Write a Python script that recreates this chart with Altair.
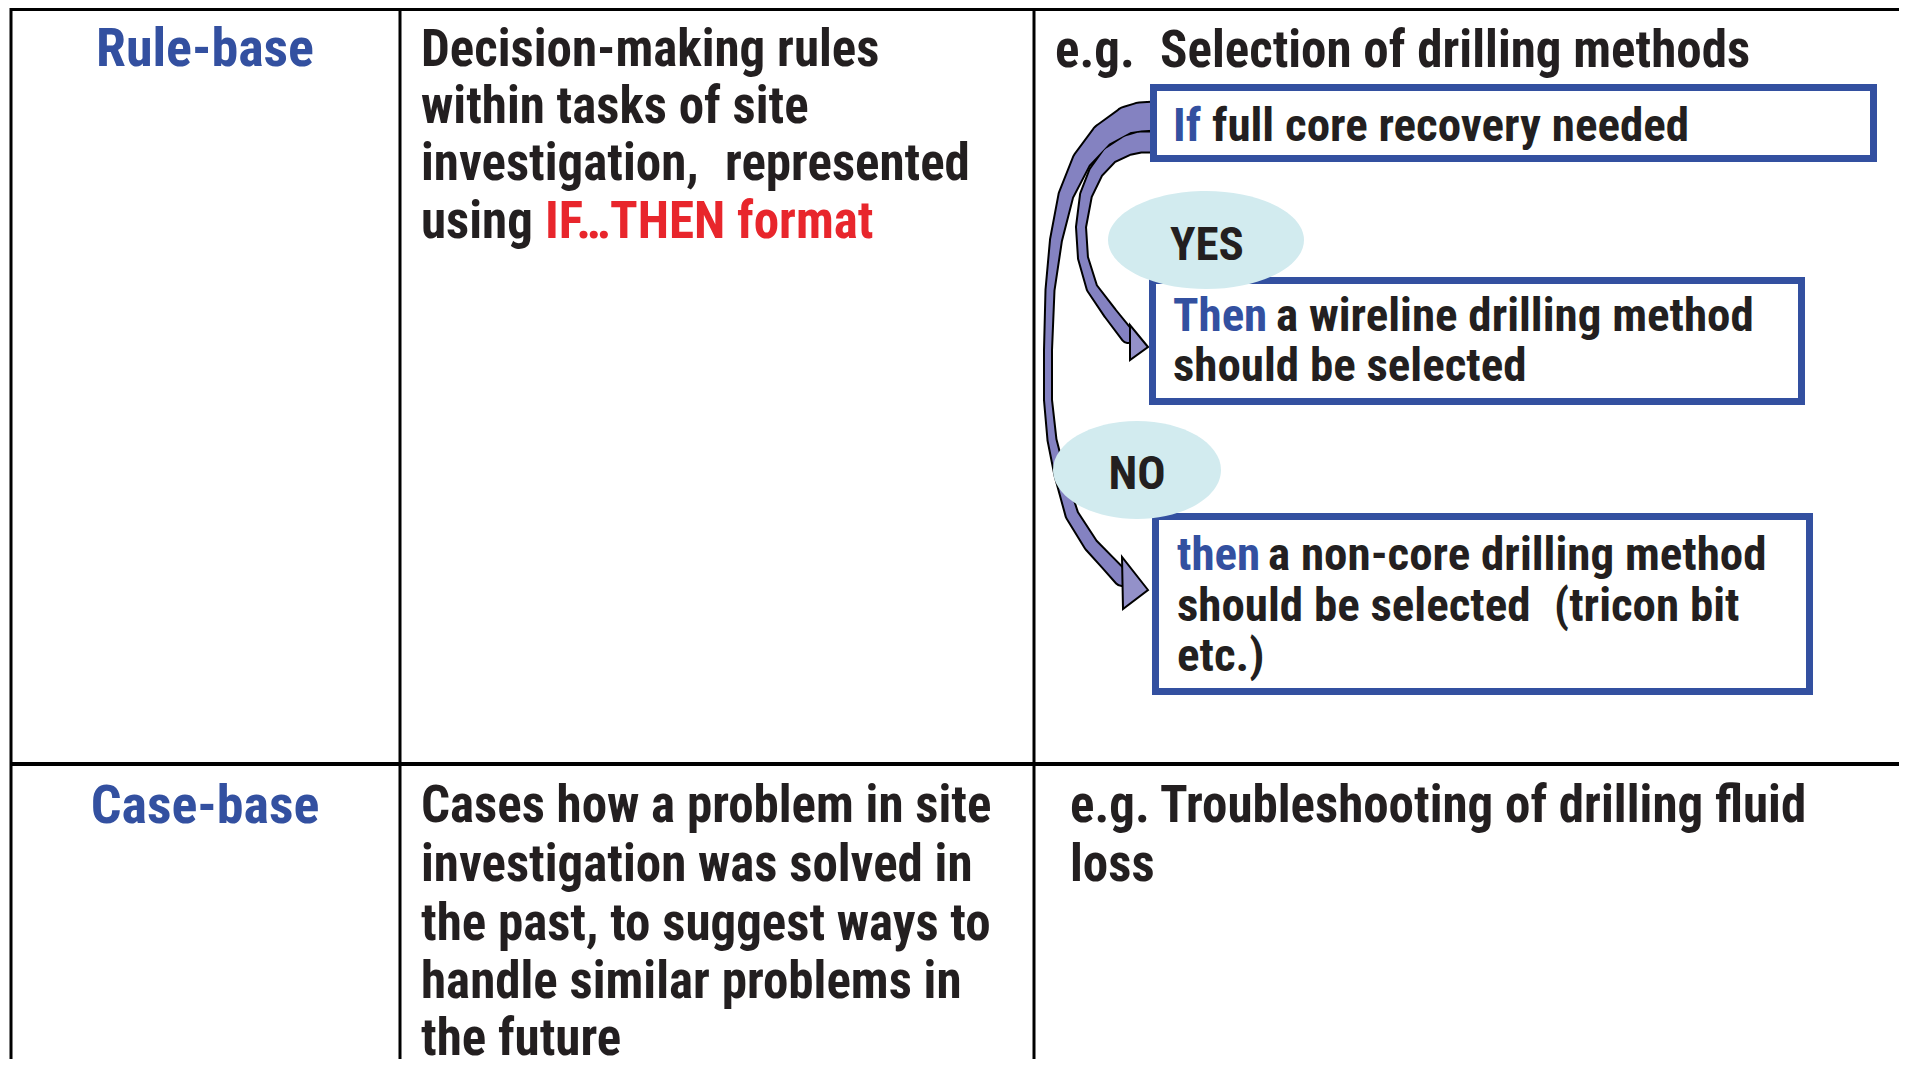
import altair as alt
import pandas as pd

# ---------------- canvas (screen pixels, page has an 8px margin) ----------------
W, H = 1891, 1051
X0, Y0 = 8, 8

BLUE = "#3350A0"
RED = "#E8262C"
BLACK = "#231F20"
ELLIPSE_FILL = "#D2EBEF"
ARROW_FILL = "#8482C1"
HEAD_FILL = "#9391C9"
FONT = "Roboto Condensed, Liberation Sans Narrow, Roboto, sans-serif"
FONT_SIZES = {"label": 54, "body": 51, "box": 47}

# ---------------- table grid lines ----------------
GRID_X1 = [11, 400, 1034, 11, 11]
GRID_X2 = [11, 400, 1034, 1907, 1907]
GRID_Y1 = [6, 6, 6, 764, 9]
GRID_Y2 = [1067, 1067, 1067, 764, 9]
GRID_W = [3, 3, 3, 4, 4]

# ---------------- boxes (If / Then / then) ----------------
BOX_ID = ["if", "yes", "no"]
BOX_X1 = [1153.5, 1152.5, 1155.5]
BOX_X2 = [1873.5, 1801.5, 1809.5]
BOX_Y1 = [87.5, 280.5, 516.5]
BOX_Y2 = [158.5, 401.5, 691.5]

# ---------------- ellipses (YES / NO) ----------------
ELL_ID = ["YES", "NO"]
ELL_X = [1206, 1137]
ELL_Y = [240, 470]
ELL_RX = [98, 84]
ELL_RY = [49, 49]

# ---------------- curved arrows (centre line + ribbon width) ----------------
OUTER_X = [1156, 1140, 1127, 1103, 1082, 1066, 1056, 1050, 1048, 1048, 1052, 1060, 1072, 1091, 1108, 1122]
OUTER_Y = [116, 117, 120, 135, 160, 195, 240, 290, 350, 400, 440, 475, 515, 545, 563, 578]
OUTER_W = [27, 27, 25, 21, 17, 13, 10, 7, 6, 6, 7, 9, 11, 12, 13, 14]
INNER_X = [1156, 1140, 1128, 1110, 1096, 1086, 1081, 1083, 1092, 1110, 1128]
INNER_Y = [142, 142, 145, 155, 172, 195, 227, 258, 288, 313, 336]
INNER_W = [19, 19, 18, 15, 12, 10, 8, 8, 9, 11, 12]

HEAD_ID = ["outer", "inner"]
HEAD_X = [1148, 1148]
HEAD_Y = [590, 347]
HEAD_SHAPE = ["M 0 0 L -26 -33 L -25 19 Z", "M 0 0 L -18 -22 L -18 13 Z"]

# ---------------- texts ----------------
TEXTS = [
    "Rule-base",
    "Decision-making rules", "within tasks of site", "investigation,", "represented",
    "using", "IF…THEN format",
    "e.g.", "Selection of drilling methods",
    "If", "full core recovery needed",
    "YES",
    "Then", "a wireline drilling method", "should be selected",
    "NO",
    "then", "a non-core drilling method", "should be selected", "(tricon bit", "etc.)",
    "Case-base",
    "Cases how a problem in site", "investigation was solved in",
    "the past, to suggest ways to", "handle similar problems in", "the future",
    "e.g. Troubleshooting of drilling fluid", "loss",
]
TEXT_ROLE = [
    "blue",
    "black", "black", "black", "black",
    "black", "red",
    "black", "black",
    "blue", "black",
    "black",
    "blue", "black", "black",
    "black",
    "blue", "black", "black", "black", "black",
    "blue",
    "black", "black", "black", "black", "black",
    "black", "black",
]
TEXT_CLASS = [
    "label",
    "body", "body", "body", "body",
    "body", "body",
    "body", "body",
    "box", "box",
    "box",
    "box", "box", "box",
    "box",
    "box", "box", "box", "box", "box",
    "label",
    "body", "body", "body", "body", "body",
    "body", "body",
]
TEXT_ALIGN = [
    "center",
    "left", "left", "left", "left",
    "left", "left",
    "left", "left",
    "left", "left",
    "center",
    "left", "left", "left",
    "center",
    "left", "left", "left", "left", "left",
    "center",
    "left", "left", "left", "left", "left",
    "left", "left",
]
TEXT_X = [
    205,
    421, 421, 421, 725,
    421, 545,
    1055, 1160,
    1173, 1212,
    1207,
    1173, 1276, 1173,
    1137,
    1177, 1268, 1177, 1554, 1177,
    205,
    421, 421, 421, 421, 421,
    1070, 1070,
]
TEXT_Y = [
    66,
    66, 123, 180, 180,
    238, 238,
    67, 67,
    141, 141,
    260,
    331, 331, 381,
    489,
    570, 570, 621, 621, 671,
    823,
    822, 881, 940, 998, 1055,
    822, 881,
]

# ---------------- data frames ----------------
grid_df = pd.DataFrame({"x": GRID_X1, "x2": GRID_X2, "y": GRID_Y1, "y2": GRID_Y2, "w": GRID_W})
box_df = pd.DataFrame({"id": BOX_ID, "x": BOX_X1, "x2": BOX_X2, "y": BOX_Y1, "y2": BOX_Y2})

arrow_rows = []
for name, xs_, ys_, ws_ in (("outer", OUTER_X, OUTER_Y, OUTER_W), ("inner", INNER_X, INNER_Y, INNER_W)):
    for i, (a, b, c) in enumerate(zip(xs_, ys_, ws_)):
        arrow_rows.append({"arrow": name, "i": i, "x": a, "y": b, "w": c})
arrow_df = pd.DataFrame(arrow_rows)
text_df = pd.DataFrame({
    "t": TEXTS, "role": TEXT_ROLE, "align": TEXT_ALIGN, "x": TEXT_X, "y": TEXT_Y,
    "fs": [FONT_SIZES[c] for c in TEXT_CLASS],
})

# ---------------- shared scales ----------------
xs = alt.Scale(domain=[X0, X0 + W], nice=False, zero=False)
ys = alt.Scale(domain=[Y0, Y0 + H], nice=False, zero=False, reverse=True)
X = lambda f="x": alt.X(f"{f}:Q", scale=xs, axis=None)
Y = lambda f="y": alt.Y(f"{f}:Q", scale=ys, axis=None)

grid = alt.Chart(grid_df).mark_rule(color="black").encode(
    x=X(), x2="x2:Q", y=Y(), y2="y2:Q",
    strokeWidth=alt.StrokeWidth("w:Q", scale=None),
)

trail_outline = alt.Chart(arrow_df).transform_calculate(wo="datum.w + 4").mark_trail(color="black").encode(
    x=X(), y=Y(), detail="arrow:N", order=alt.Order("i:Q"),
    size=alt.Size("wo:Q", scale=None),
)
trail_fill = alt.Chart(arrow_df).mark_trail(color=ARROW_FILL).encode(
    x=X(), y=Y(), detail="arrow:N", order=alt.Order("i:Q"),
    size=alt.Size("w:Q", scale=None),
)

# arrow heads: one layer each, the custom path is the mark's own shape (size 4 -> unit scale)
heads = [
    alt.Chart(pd.DataFrame({"id": [hid], "x": [hx], "y": [hy]})).mark_point(
        shape=hs, filled=True, fill=HEAD_FILL, stroke="black", strokeWidth=2, opacity=1, size=4
    ).encode(x=X(), y=Y())
    for hid, hx, hy, hs in zip(HEAD_ID, HEAD_X, HEAD_Y, HEAD_SHAPE)
]

boxes = alt.Chart(box_df).mark_rect(fill="white", stroke=BLUE, strokeWidth=7).encode(
    x=X(), x2="x2:Q", y=Y(), y2="y2:Q"
)

K = 0.5523


def ellipse_path(rx, ry):
    kx, ky = K * rx, K * ry
    return (
        f"M {-rx} 0 C {-rx} {-ky:.2f} {-kx:.2f} {-ry} 0 {-ry} "
        f"C {kx:.2f} {-ry} {rx} {-ky:.2f} {rx} 0 "
        f"C {rx} {ky:.2f} {kx:.2f} {ry} 0 {ry} "
        f"C {-kx:.2f} {ry} {-rx} {ky:.2f} {-rx} 0 Z"
    )


ellipses = [
    alt.Chart(pd.DataFrame({"id": [eid], "x": [ex], "y": [ey]})).mark_point(
        shape=ellipse_path(rx, ry), filled=True, fill=ELLIPSE_FILL, opacity=1, strokeWidth=0, size=4
    ).encode(x=X(), y=Y())
    for eid, ex, ey, rx, ry in zip(ELL_ID, ELL_X, ELL_Y, ELL_RX, ELL_RY)
]

color_scale = alt.Scale(domain=["black", "blue", "red"], range=[BLACK, BLUE, RED])


def text_layer(align):
    return alt.Chart(text_df).transform_filter(alt.datum.align == align).mark_text(
        align=align, baseline="alphabetic", font=FONT, fontWeight="bold"
    ).encode(
        x=X(), y=Y(), text="t:N",
        size=alt.Size("fs:Q", scale=None),
        color=alt.Color("role:N", scale=color_scale, legend=None),
    )


chart = alt.layer(
    grid, trail_outline, trail_fill, *heads, boxes, *ellipses,
    text_layer("left"), text_layer("center"),
).properties(
    width=W, height=H, padding=0, autosize="none", background="white"
).configure_view(stroke=None)

chart.save("out.html", embed_options={"renderer": "svg", "actions": False})
